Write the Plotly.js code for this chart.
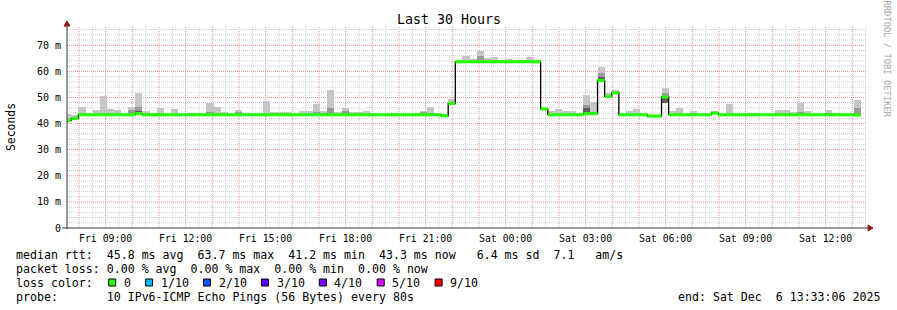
<!DOCTYPE html>
<html><head><meta charset="utf-8">
<script src="https://cdn.plot.ly/plotly-3.0.1.min.js"></script>
<style>html,body{margin:0;padding:0;background:#fff}#chart{width:897px;height:310px}</style>
</head><body><div id="chart"></div>
<script>
// ---- data (16-minute consolidation bins, first bin starts 2025-12-05 07:26:48) ----
const binStart = Date.UTC(2025, 11, 5, 7, 26, 48);
const binMs = 16 * 60 * 1000;
const median = [
  41.2, 42.0, 43.4, 43.4, 43.4, 43.4, 43.4, 43.4, 43.4, 43.4,
  43.8, 43.4, 43.4, 43.4, 43.4, 43.4, 43.4, 43.4, 43.4, 43.4,
  43.4, 43.4, 43.4, 43.4, 43.4, 43.4, 43.4, 43.4, 43.4, 43.4,
  43.4, 43.4, 43.4, 43.4, 43.4, 43.4, 43.4, 43.4, 43.4, 43.4,
  43.4, 43.4, 43.4, 43.4, 43.4, 43.4, 43.4, 43.4, 43.4, 43.4,
  43.4, 43.4, 43.4, 43.0, 47.7, 63.7, 63.7, 63.7, 63.7, 63.7,
  63.7, 63.7, 63.7, 63.7, 63.7, 63.7, 63.7, 45.6, 43.4, 43.4,
  43.4, 43.4, 43.4, 43.8, 43.8, 56.5, 50.4, 51.8, 43.4, 43.4,
  43.4, 43.4, 42.9, 42.9, 50.2, 43.4, 43.4, 43.4, 43.4, 43.4,
  43.4, 44.0, 43.4, 43.4, 43.4, 43.4, 43.4, 43.4, 43.4, 43.4,
  43.4, 43.4, 43.4, 43.4, 43.4, 43.4, 43.4, 43.4, 43.4, 43.4,
  43.4, 43.3
];
const smokeMax = [
  43.6, 43.2, 46.4, 44.0, 45.1, 50.5, 45.5, 45.1, 44.0, 46.4,
  51.8, 44.8, 44.2, 46.0, 43.8, 45.4, 43.8, 43.6, 44.0, 43.5,
  47.7, 46.4, 44.4, 43.8, 45.3, 44.0, 43.8, 43.8, 48.7, 44.5,
  44.3, 44.5, 43.8, 44.8, 44.8, 47.4, 44.8, 52.8, 44.5, 46.0,
  44.5, 44.5, 44.9, 44.2, 43.7, 43.7, 43.6, 43.7, 43.7, 43.8,
  44.8, 46.4, 44.2, 43.5, 49.3, 64.4, 65.9, 64.8, 67.8, 65.3,
  65.5, 64.5, 64.9, 64.5, 64.2, 65.6, 64.2, 46.0, 44.8, 45.5,
  44.8, 44.8, 43.6, 50.9, 48.3, 61.7, 51.8, 52.8, 43.7, 44.8,
  45.6, 44.2, 43.4, 43.4, 53.7, 44.8, 46.0, 44.2, 44.8, 44.0,
  44.2, 44.8, 43.6, 47.4, 43.6, 43.6, 44.2, 43.6, 44.2, 43.8,
  45.1, 45.1, 44.4, 47.7, 45.0, 43.6, 44.0, 45.1, 44.2, 43.6,
  44.2, 49.0
];
const innerBins = [9, 10, 20, 24, 35, 37, 39, 50, 58, 73, 75, 84, 103, 107, 111];
const innerLo   = [43.4, 43.6, 43.4, 43.4, 43.4, 43.4, 43.4, 43.4, 63.7, 43.9, 56.5, 50.2, 43.4, 43.4, 43.4];
const innerHi   = [45.1, 46.4, 44.6, 44.4, 44.6, 45.8, 45.0, 44.3, 65.8, 47.0, 59.4, 51.8, 44.6, 44.0, 46.0];
const darkBins = [10, 73, 75, 84];
const darkLo   = [43.9, 43.9, 56.5, 47.7];
const darkHi   = [45.0, 45.8, 57.9, 50.2];

const xTickLabels = ['Fri 09:00', 'Fri 12:00', 'Fri 15:00', 'Fri 18:00', 'Fri 21:00',
                     'Sat 00:00', 'Sat 03:00', 'Sat 06:00', 'Sat 09:00', 'Sat 12:00'];
const xTickTimes = ['2025-12-05 09:00', '2025-12-05 12:00', '2025-12-05 15:00', '2025-12-05 18:00',
                    '2025-12-05 21:00', '2025-12-06 00:00', '2025-12-06 03:00', '2025-12-06 06:00',
                    '2025-12-06 09:00', '2025-12-06 12:00'];
const yTickVals = [0, 10, 20, 30, 40, 50, 60, 70];
const yTickLabels = ['0', '10 m', '20 m', '30 m', '40 m', '50 m', '60 m', '70 m'];

const statLines = [
  'median rtt:  45.8 ms avg  63.7 ms max  41.2 ms min  43.3 ms now   6.4 ms sd  7.1   am/s',
  'packet loss: 0.00 % avg  0.00 % max  0.00 % min  0.00 % now',
  'loss color:',
  'probe:       10 IPv6-ICMP Echo Pings (56 Bytes) every 80s'
];
const lossLabels = ['0', '1/10', '2/10', '3/10', '4/10', '5/10', '9/10'];
const lossColors = ['#26ff00', '#00b8ff', '#0059ff', '#5e00ff', '#7e00ff', '#dd00ff', '#ff0000'];
const endText = 'end: Sat Dec  6 13:33:06 2025';

// ---- geometry helpers ----
const W = 897, H = 310, L = 67, R = 30, T = 27, B = 82;
const PW = W - L - R, PH = H - T - B;
const px = x => (x - L) / PW;
const py = y => (T + PH - y) / PH;
const nb = s => s.replace(/ /g, '\u00A0');
const MONO = 'DejaVu Sans Mono, monospace';
const X0 = Date.UTC(2025, 11, 5, 7, 33, 6), X1 = Date.UTC(2025, 11, 6, 13, 33, 6);
const YMAX = 77;

const center = i => binStart + (i + 0.5) * binMs;
const startT = i => binStart + i * binMs;

// ---- traces ----
const traces = [];
function barTrace(idx, lo, hi, color) {
  const x = [], base = [], y = [];
  idx.forEach((b, k) => { if (hi[k] > lo[k]) { x.push(center(b)); base.push(lo[k]); y.push(hi[k] - lo[k]); } });
  return { type: 'bar', x, y, base, width: binMs, marker: { color, line: { width: 0 }, opacity: 1 },
           hoverinfo: 'skip', showlegend: false };
}
const allIdx = median.map((_, i) => i);
traces.push(barTrace(allIdx, median, smokeMax, '#c6c6c6'));
traces.push(barTrace(innerBins, innerLo, innerHi, '#9a9a9a'));
traces.push(barTrace(darkBins, darkLo, darkHi, '#5e5e5e'));

// black step line
const sx = [], sy = [];
median.forEach((m, i) => { sx.push(startT(i)); sy.push(m); });
sx.push(startT(median.length)); sy.push(median[median.length - 1]);
traces.push({ type: 'scatter', mode: 'lines', x: sx, y: sy, line: { color: '#000', width: 1.3, shape: 'hv' },
              hoverinfo: 'skip', showlegend: false });
// green median segments
const gx = [], gy = [];
median.forEach((m, i) => { gx.push(startT(i), startT(i + 1), null); gy.push(m, m, null); });
traces.push({ type: 'scatter', mode: 'lines', x: gx, y: gy, line: { color: '#26ff00', width: 3.2 },
              connectgaps: false, hoverinfo: 'skip', showlegend: false });

// ---- axis ticks ----
const hourVals = [], hourText = [];
for (let t = Date.UTC(2025, 11, 5, 8); t <= Date.UTC(2025, 11, 6, 13); t += 3600000) {
  hourVals.push(t);
  const d = new Date(t);
  const key = d.toISOString().slice(0, 10) + ' ' + d.toISOString().slice(11, 16);
  const k = xTickTimes.indexOf(key);
  hourText.push(k >= 0 ? xTickLabels[k] : '');
}

const redGrid = '#ec9090';
const grayGrid = '#cfcfcf';
const dotted = '1px,1px';

const shapes = [];
// grid as shapes under the data
for (let t = Date.UTC(2025, 11, 5, 7, 30); t <= X1; t += 1800000) {
  if (t <= X0) continue;
  const major = (t % 3600000) === 0;
  shapes.push({ type: 'line', layer: 'below', xref: 'x', yref: 'paper', x0: t, x1: t, y0: 0, y1: 1,
                line: { color: major ? redGrid : grayGrid, width: 1, dash: dotted } });
}
for (let v = 2; v < YMAX; v += 2) {
  const major = v % 10 === 0;
  shapes.push({ type: 'line', layer: 'below', xref: 'paper', yref: 'y', x0: 0, x1: 1, y0: v, y1: v,
                line: { color: major ? redGrid : grayGrid, width: 1, dash: dotted } });
}

// ---- annotations ----
const ann = [];
ann.push({ text: 'Last 30 Hours', xref: 'paper', yref: 'paper', x: px(448.5), y: py(19.5), xanchor: 'center', yanchor: 'middle',
           showarrow: false, font: { family: MONO, size: 13.3, color: '#000' } });
ann.push({ text: 'Seconds', xref: 'paper', yref: 'paper', x: px(11), y: py(127), xanchor: 'center', yanchor: 'middle',
           textangle: -90, showarrow: false, font: { family: MONO, size: 11.4, color: '#000' } });
ann.push({ text: nb('RRDTOOL / TOBI OETIKER'), xref: 'paper', yref: 'paper', x: px(886.5), y: py(59), xanchor: 'center', yanchor: 'middle',
           textangle: 90, showarrow: false, font: { family: MONO, size: 8.8, color: '#a8a8a8' } });
const lineY = [255, 268.5, 282.5, 296.5];
statLines.forEach((s, k) => ann.push({ text: nb(s), xref: 'paper', yref: 'paper', x: px(14), y: py(lineY[k]),
  xanchor: 'left', yanchor: 'middle', showarrow: false, font: { family: MONO, size: 11.6, color: '#000' } }));
ann.push({ text: nb(endText), xref: 'paper', yref: 'paper', x: px(882), y: py(296.5), xanchor: 'right', yanchor: 'middle',
           showarrow: false, font: { family: MONO, size: 11.6, color: '#000' } });

let bx = 108.7;
lossLabels.forEach((lab, k) => {
  shapes.push({ type: 'rect', xref: 'paper', yref: 'paper', x0: px(bx), x1: px(bx + 7), y0: py(286), y1: py(279),
                fillcolor: lossColors[k], line: { color: '#000', width: 1 } });
  const lx = bx + 14.6;
  ann.push({ text: lab, xref: 'paper', yref: 'paper', x: px(lx - 1.5), y: py(lineY[2]), xanchor: 'left', yanchor: 'middle',
             showarrow: false, font: { family: MONO, size: 11.6, color: '#000' } });
  bx = lx + lab.length * 7 + 15.3;
});

// axis lines and arrows
shapes.push({ type: 'line', xref: 'paper', yref: 'paper', x0: px(67), x1: px(67), y0: py(229), y1: py(24),
              line: { color: '#3a3a3a', width: 1 } });
shapes.push({ type: 'line', xref: 'paper', yref: 'paper', x0: px(62), x1: px(869), y0: py(228), y1: py(228),
              line: { color: '#3a3a3a', width: 1 } });
shapes.push({ type: 'path', xref: 'paper', yref: 'paper',
              path: `M ${px(64)} ${py(26)} L ${px(70)} ${py(26)} L ${px(67)} ${py(21)} Z`,
              fillcolor: '#8b1a1a', line: { color: '#8b1a1a', width: 1 } });
shapes.push({ type: 'path', xref: 'paper', yref: 'paper',
              path: `M ${px(868)} ${py(225)} L ${px(868)} ${py(231)} L ${px(873)} ${py(228)} Z`,
              fillcolor: '#8b1a1a', line: { color: '#8b1a1a', width: 1 } });

const layout = {
  width: W, height: H,
  margin: { l: L, r: R, t: T, b: B, pad: 0 },
  paper_bgcolor: '#fff', plot_bgcolor: '#fff',
  barmode: 'overlay', bargap: 0,
  showlegend: false,
  xaxis: {
    type: 'date', range: [X0, X1],
    tickmode: 'array', tickvals: hourVals, ticktext: hourText,
    showgrid: false, ticks: '', showline: false, zeroline: false,
    tickfont: { family: MONO, size: 9.8, color: '#000' },
    ticklabelstandoff: 3, fixedrange: true
  },
  yaxis: {
    range: [0, YMAX],
    tickmode: 'array', tickvals: yTickVals, ticktext: yTickLabels,
    showgrid: false, ticks: '', showline: false, zeroline: false,
    tickfont: { family: MONO, size: 10, color: '#000' },
    ticklabelstandoff: 5, fixedrange: true
  },
  annotations: ann,
  shapes: shapes
};

Plotly.newPlot('chart', traces, layout, { staticPlot: true, displayModeBar: false });
</script>
</body></html>
